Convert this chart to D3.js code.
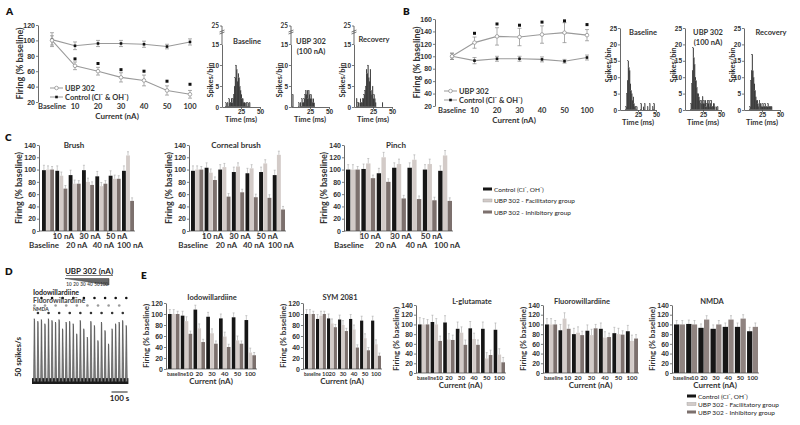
<!DOCTYPE html>
<html><head><meta charset="utf-8">
<script src="https://cdn.jsdelivr.net/npm/d3@7"></script>
<style>body{margin:0;background:#fff} svg{font-family:Lato,"Open Sans",sans-serif}</style>
</head><body><svg id="c" width="800" height="425"></svg>
<script>
// ---------- DATA ----------
const currents = ["Baseline","10","20","30","40","50","100"];
const aUbp = [100,67,60,52,48,35,30];
const aUbpErr = [6,5,5,6,7,6,5];
const aCtrl = [101,93,96,96,95,92,98];
const aCtrlErr = [9,5,4,4,4,3,4];
const aStar = [null,76,70,62,60,47,43];
const bUbp = [100,122,132,131,135,138,134];
const bUbpErr = [5,9,14,14,14,16,9];
const bCtrl = [100,93,96,96,95,92,98];
const bCtrlErr = [5,5,4,4,4,3,4];
const bStar = [null,137,152,150,155,157,151];

const histA_base = [0,0,0,0,0,1,0,1,0,2,1,1,2,1,2,3,5,7,10,9,6,8,7,5,4,3,2,2,1,1,1,0,1,0,1,0,1,0,0,0,0,0,0,0,0,0,0,0,0,0];
const histA_ubp  = [0,0,3,0,0,0,0,0,0,0,1,0,1,0,2,1,1,2,3,4,3,4,2,4,3,2,3,2,1,2,1,0,0,0,0,0,0,0,0,0,0,0,0,0,0,0,0,0,0,0];
const histA_rec  = [0,0,0,2,0,1,1,0,2,1,1,2,2,3,4,5,9,8,10,7,6,9,4,3,5,2,3,2,1,0,0,0,0,0,0,0,0,1,0,0,0,0,0,0,0,0,0,0,0,0];
const histB_base = [0,0,0,0,0,0,0,0,1,5,9,15,13,12,8,6,5,3,4,2,1,1,0,1,0,0,0,0,0,2,0,0,1,0,2,0,0,0,1,0,0,2,0,0,0,1,0,2,0,0];
const histB_ubp  = [0,0,0,0,0,0,0,0,2,8,12,19,16,14,10,9,7,5,5,4,3,2,3,2,4,2,3,2,3,1,2,3,2,3,1,2,3,1,1,2,2,1,0,1,0,1,0,0,0,0];
const histB_rec  = [0,0,0,0,0,0,0,0,1,9,12,17,12,10,8,6,4,3,3,2,1,3,2,2,1,1,2,1,1,2,1,1,1,2,1,1,1,1,1,0,0,0,0,0,0,0,0,0,0,0];

const cGroups = ["Baseline","10 nA","20 nA","30 nA","40 nA","50 nA","100 nA"];
const brushCtrl=[99,98,91,99,89,90,98], brushFac=[100,90,77,80,73,85,123], brushInh=[100,69,77,75,77,85,49];
const cornCtrl=[98,103,100,96,94,96,91], cornFac=[100,95,104,105,102,110,124], cornInh=[100,83,56,63,55,54,35];
const pinchCtrl=[100,101,94,103,103,100,98], pinchFac=[100,110,120,109,116,109,123], pinchInh=[100,86,80,53,52,50,49];

const eGroups = ["baseline","10","20","30","40","50","100"];
const iodoCtrl=[100,97,108,95,92,94,89], iodoFac=[100,87,74,65,59,52,30], iodoInh=[100,64,49,46,40,46,25];
const symCtrl=[100,91,92,90,91,88,88], symFac=[100,97,83,80,72,56,45], symInh=[100,100,76,69,39,34,24];
const gluCtrl=[100,105,104,91,92,91,89], gluFac=[100,100,69,83,70,30,38], gluInh=[100,66,68,58,58,37,22];
const fluCtrl=[100,88,80,87,91,82,86], fluFac=[100,112,83,78,73,80,66], fluInh=[100,91,78,92,74,79,71];
const nmdaCtrl=[100,101,93,91,95,95,86], nmdaUbp=[100,100,110,100,110,112,95];

const dPeaks = [78,75,77,72,78,76,74,77,66,74,75,72,60,76,66,56,75,70,52,74,64,48,66,72,74,76,70];
const dAgonists = ["Iodowillardiine","Fluorowillardiine","NMDA"];
const dRamp = ["10","20","30","40","50","100"];

const legendLabels = ["Control (Cl\u207B, OH\u207B)","UBP 302 - Facilitatory group","UBP 302 - Inhibitory group"];
const COL = ["#161616","#d3cbc8","#7c706d"];

// ---------- HELPERS ----------
const svg = d3.select("#c");
function T(g,x,y,s,size,o={}){
  const t=g.append("text").attr("x",x).attr("y",y).text(s).attr("font-size",size)
   .attr("fill",o.fill||"#222").attr("font-weight",o.w||700).attr("text-anchor",o.a||"start");
  if(o.rot) t.attr("transform",`rotate(-90,${x},${y})`);
  return t;
}
function styleAxis(ga,fs){
  ga.selectAll("text").attr("font-size",fs).attr("fill","#333").attr("font-weight",700);
  ga.selectAll("line").attr("stroke","#444").attr("stroke-width",0.7);
  ga.select(".domain").attr("stroke","#444").attr("stroke-width",0.8);
}

function lineChart(o){
  const g=svg.append("g");
  const x=d3.scalePoint().domain(currents).range([o.x0,o.x1]);
  const y=d3.scaleLinear().domain(o.yd).range(o.yr);
  const ga=g.append("g").attr("transform",`translate(${o.ax},0)`)
    .call(d3.axisLeft(y).tickValues(o.ticks).tickSize(2).tickPadding(1).tickSizeOuter(0));
  styleAxis(ga,7);
  g.selectAll(null).data(currents).join("text").attr("x",d=>x(d)).attr("y",o.yr[0]+7)
    .attr("text-anchor","middle").attr("font-size",7.5).attr("font-weight",700).attr("fill","#333").text(d=>d);
  T(g,(o.ax+o.x1)/2+3,o.yr[0]+17,"Current (nA)",8,{a:"middle",fill:"#333"});
  T(g,o.ax-15,(o.yr[0]+o.yr[1])/2,"Firing (% baseline)",9,{a:"middle",rot:true,fill:"#333"});
  const line=d3.line().x((d,i)=>x(currents[i])).y(d=>y(d));
  [[o.ctrl,o.ctrlErr],[o.ubp,o.ubpErr]].forEach(([s,e])=>{
    g.append("path").attr("d",line(s)).attr("fill","none").attr("stroke","#9a9a9a").attr("stroke-width",1.1);
    g.selectAll(null).data(s).join("path").attr("d",(d,i)=>{const cx=x(currents[i]),t=y(d+e[i]),b=y(d-e[i]);
      return `M${cx},${t}V${b}M${cx-2},${t}H${cx+2}M${cx-2},${b}H${cx+2}`;})
      .attr("stroke","#8a8a8a").attr("stroke-width",0.7).attr("fill","none");
  });
  g.selectAll(null).data(o.ctrl).join("rect").attr("x",(d,i)=>x(currents[i])-1.3).attr("y",d=>y(d)-1.3)
    .attr("width",2.6).attr("height",2.6).attr("fill","#111");
  g.selectAll(null).data(o.ubp).join("circle").attr("cx",(d,i)=>x(currents[i])).attr("cy",d=>y(d))
    .attr("r",1.8).attr("fill","#fff").attr("stroke","#888").attr("stroke-width",0.7);
  g.selectAll(null).data(o.star.map((v,i)=>[v,i]).filter(d=>d[0]!=null)).join("rect")
    .attr("x",d=>x(currents[d[1]])-1.5).attr("y",d=>y(d[0])-1.5).attr("width",3).attr("height",3).attr("fill","#111");
  const lx=o.legX, ly=o.legY;
  g.append("line").attr("x1",lx).attr("x2",lx+13).attr("y1",ly).attr("y2",ly).attr("stroke","#999");
  g.append("circle").attr("cx",lx+6.5).attr("cy",ly).attr("r",1.8).attr("fill","#fff").attr("stroke","#888").attr("stroke-width",0.7);
  T(g,lx+15,ly+2.5,"UBP 302",7.5,{fill:"#333"});
  g.append("line").attr("x1",lx).attr("x2",lx+13).attr("y1",ly+9).attr("y2",ly+9).attr("stroke","#999");
  g.append("rect").attr("x",lx+5.2).attr("y",ly+7.7).attr("width",2.6).attr("height",2.6).attr("fill","#111");
  T(g,lx+15,ly+11.5,"Control (Cl\u207B & OH\u207B)",7.5,{fill:"#333"});
}

function hist(o){
  const g=svg.append("g");
  const x=d3.scaleLinear().domain([0,50]).range([o.ax,o.ax+o.w]);
  const y=d3.scaleLinear().domain(o.yd).range(o.yr);
  g.selectAll(null).data(o.data).join("rect").attr("x",(d,i)=>x(i)).attr("width",x(1)-x(0)+0.1)
    .attr("y",d=>y(d)).attr("height",d=>o.yr[0]-y(d)).attr("fill","#1c1c1c").attr("stroke","#666").attr("stroke-width",0.12);
  const ga=g.append("g").attr("transform",`translate(${o.ax},0)`)
    .call(d3.axisLeft(y).tickValues(o.ticks).tickSize(2).tickPadding(1).tickSizeOuter(0));
  styleAxis(ga,6.5);
  if(o.top){
    g.append("line").attr("x1",o.ax).attr("x2",o.ax).attr("y1",o.yr[1]).attr("y2",o.top).attr("stroke","#444").attr("stroke-width",0.8);
    g.append("line").attr("x1",o.ax-2).attr("x2",o.ax).attr("y1",o.top).attr("y2",o.top).attr("stroke","#444").attr("stroke-width",0.7);
    T(g,o.ax-3,o.top+2.3,"25",6.5,{a:"end",fill:"#333"});
    g.append("path").attr("d",`M${o.ax-2.5},${o.top+6}L${o.ax+2.5},${o.top+4}M${o.ax-2.5},${o.top+8}L${o.ax+2.5},${o.top+6}`)
      .attr("stroke","#444").attr("stroke-width",0.7);
  }
  const gx=g.append("g").attr("transform",`translate(0,${o.yr[0]})`)
    .call(d3.axisBottom(x).tickValues([25,50]).tickSize(2).tickPadding(0).tickSizeOuter(0));
  styleAxis(gx,6.5);
  T(g,x(25),o.yr[0]+15,"Time (ms)",7.5,{a:"middle",fill:"#333"});
  T(g,o.ax-9,o.labY,"Spikes/bin",7.5,{a:"middle",rot:true,fill:"#333"});
  o.title.forEach((s,i)=>T(g,o.tx,o.ty+i*10,s,7.5,{a:"middle",fill:"#333"}));
}

function barChart(o){
  const g=svg.append("g");
  const y=d3.scaleLinear().domain([0,o.ymax]).range([o.y0,o.y1]);
  const x=d3.scaleBand().domain(o.groups).range([o.x0,o.x1]).paddingInner(0.1);
  const xs=d3.scaleBand().domain(d3.range(o.series.length)).range([0,x.bandwidth()]).paddingInner(0.06);
  o.series.forEach((s,k)=>{
    g.selectAll(null).data(s).join("path").attr("d",(d,i)=>{
      const cx=x(o.groups[i])+xs(k)+xs.bandwidth()/2, t=y(d+o.err[k]);
      return `M${cx},${y(d)}V${t}M${cx-1},${t}H${cx+1}`;})
      .attr("stroke","#aaa").attr("stroke-width",0.6).attr("fill","none");
    g.selectAll(null).data(s).join("rect").attr("x",(d,i)=>x(o.groups[i])+xs(k)).attr("width",xs.bandwidth())
      .attr("y",d=>y(d)).attr("height",d=>o.y0-y(d)).attr("fill",o.colors[k]);
  });
  const ga=g.append("g").attr("transform",`translate(${o.ax},0)`)
    .call(d3.axisLeft(y).tickValues(o.ticks).tickSize(2).tickPadding(1).tickSizeOuter(0));
  styleAxis(ga,o.fs);
  g.append("line").attr("x1",o.ax).attr("x2",o.x1+1).attr("y1",o.y0).attr("y2",o.y0).attr("stroke","#444").attr("stroke-width",0.7);
  T(g,o.tx,o.ty,o.title,o.tfs,{a:"middle",fill:"#333"});
  T(g,o.ax-17,(o.y0+o.y1)/2,"Firing (% baseline)",o.lfs,{a:"middle",rot:true,fill:"#333"});
  if(o.twoRow){
    o.groups.forEach((gname,i)=>{
      const cx=x(gname)+x.bandwidth()/2;
      if(i%2===1){
        g.append("line").attr("x1",x(gname)-1).attr("x2",x(gname)-1).attr("y1",o.y0).attr("y2",o.y0+8).attr("stroke","#777").attr("stroke-width",0.5);
        T(g,cx+2,o.y0+8,gname,8,{a:"middle",fill:"#333"});
      } else {
        T(g,cx+(i===0?-4:2),o.y0+17,gname,8,{a:"middle",fill:"#333"});
      }
    });
  } else {
    const off1=o.off1||3, bfs=o.bfs||5.2, xfs=o.xfs||6.3;
    g.selectAll(null).data(o.groups).join("text")
      .attr("x",(d,i)=>i===0?o.ax+1:x(d)+x.bandwidth()/2+(i===1?off1:0)).attr("y",o.y0+7)
      .attr("text-anchor",(d,i)=>i===0?"start":"middle").attr("font-size",(d,i)=>i===0?bfs:xfs)
      .attr("font-weight",700).attr("fill","#333").text(d=>d);
    T(g,(o.ax+o.x1)/2,o.y0+15,"Current (nA)",8,{a:"middle",fill:"#333"});
  }
}

function legend(x0,y0,step,fs){
  const g=svg.append("g");
  legendLabels.forEach((s,i)=>{
    g.append("rect").attr("x",x0).attr("y",y0+i*step-2.5).attr("width",9).attr("height",3).attr("fill",COL[i])
     .attr("stroke",i===1?"#999":"none").attr("stroke-width",0.4);
    T(g,x0+11,y0+i*step+1.5,s,fs,{w:400,fill:"#222"});
  });
}

// ---------- PANEL LABELS ----------
[["A",6,15],["B",403,15],["C",5,141],["D",5,275],["E",141,279]].forEach(d=>T(svg,d[1],d[2],d[0],10,{w:800,fill:"#111"}));

// ---------- A ----------
lineChart({ax:38,x0:52,x1:190,yd:[20,120],yr:[102,25],ticks:[20,40,60,80,100,120],
  ubp:aUbp,ubpErr:aUbpErr,ctrl:aCtrl,ctrlErr:aCtrlErr,star:aStar,legX:50,legY:88});
hist({ax:222,w:38,yd:[0,15],yr:[107,44],ticks:[0,5,10,15],top:26,data:histA_base,labY:80,title:["Baseline"],tx:247,ty:44});
hist({ax:291,w:38,yd:[0,15],yr:[107,44],ticks:[0,5,10,15],top:26,data:histA_ubp,labY:80,title:["UBP 302","(100 nA)"],tx:311,ty:44});
hist({ax:354,w:38,yd:[0,15],yr:[107,44],ticks:[0,5,10,15],top:26,data:histA_rec,labY:80,title:["Recovery"],tx:374,ty:42});

// ---------- B ----------
lineChart({ax:435,x0:452,x1:587,yd:[20,160],yr:[106,19],ticks:[20,40,60,80,100,120,140,160],
  ubp:bUbp,ubpErr:bUbpErr,ctrl:bCtrl,ctrlErr:bCtrlErr,star:bStar,legX:444,legY:91});
hist({ax:620,w:36,yd:[0,25],yr:[110,28],ticks:[0,5,10,15,20,25],data:histB_base,labY:65,title:["Baseline"],tx:643,ty:35});
hist({ax:685,w:36,yd:[0,25],yr:[110,28],ticks:[0,5,10,15,20,25],data:histB_ubp,labY:65,title:["UBP 302","(100 nA)"],tx:708,ty:35});
hist({ax:744,w:36,yd:[0,25],yr:[110,28],ticks:[0,5,10,15,20,25],data:histB_rec,labY:65,title:["Recovery"],tx:771,ty:35});

// ---------- C ----------
const cT=[0,20,40,60,80,100,120,140];
barChart({ax:39,x0:42,x1:134,y0:231,y1:145,ymax:140,ticks:cT,groups:cGroups,series:[brushCtrl,brushFac,brushInh],
  colors:COL,err:[8,6,5],fs:7,title:"Brush",tx:74,ty:148,tfs:8,lfs:9,twoRow:true});
barChart({ax:189,x0:191,x1:285,y0:231,y1:145,ymax:140,ticks:cT,groups:cGroups,series:[cornCtrl,cornFac,cornInh],
  colors:COL,err:[8,6,5],fs:7,title:"Corneal brush",tx:236,ty:148,tfs:8,lfs:9,twoRow:true});
barChart({ax:344,x0:346,x1:452,y0:231,y1:145,ymax:140,ticks:cT,groups:cGroups,series:[pinchCtrl,pinchFac,pinchInh],
  colors:COL,err:[8,8,5],fs:7,title:"Pinch",tx:396,ty:148,tfs:8,lfs:9,twoRow:true});
legend(483,190,11.5,6.5);

// ---------- D ----------
(function(){
  const g=svg.append("g");
  const times=dPeaks.map((d,i)=>15+i*22);
  const x=d3.scaleLinear().domain([0,610]).range([32,130]);
  const y=d3.scaleLinear().domain([0,80]).range([384,317]);
  g.append("rect").attr("x",x(0)).attr("y",y(7)).attr("width",x(600)-x(0)).attr("height",y(0)-y(7)).attr("fill","#1c1c1c");
  g.selectAll(null).data(dPeaks).join("path").attr("d",(d,i)=>{const t=times[i];
      return `M${x(t-5)},${y(3)}L${x(t-1)},${y(d)}L${x(t+1)},${y(d-2)}L${x(t+6)},${y(3)}Z`;})
    .attr("fill","#8d8d8d").attr("stroke","#3a3a3a").attr("stroke-width",0.6);
  const rowY=[298,305.5,313], rowC=["#111","#9a9a9a","#333"];
  dAgonists.forEach((a,k)=>{
    g.selectAll(null).data(times.filter((t,i)=>i%3===(k+2)%3)).join("circle")
      .attr("cx",d=>x(d)).attr("cy",rowY[k]).attr("r",1.3).attr("fill",rowC[k]);
  });
  T(g,33,295,dAgonists[0],7,{fill:"#222"});
  T(g,33,303,dAgonists[1],7,{fill:"#444"});
  T(g,33,310.5,dAgonists[2],5,{fill:"#333"});
  const rx=d3.scalePoint().domain(dRamp).range([69,104]);
  g.append("path").attr("d",`M${rx("10")-4},278.5L${rx("100")+5},278.5L${rx("100")+5},285Z`).attr("fill","#666").attr("stroke","#333").attr("stroke-width",0.5);
  T(g,89,273.5,"UBP 302 (nA)",8,{a:"middle",fill:"#222"});
  g.append("line").attr("x1",66).attr("x2",113).attr("y1",275.5).attr("y2",275.5).attr("stroke","#222").attr("stroke-width",0.6);
  g.selectAll(null).data(dRamp).join("text").attr("x",d=>rx(d)).attr("y",285.5).attr("text-anchor","middle")
    .attr("font-size",4.6).attr("font-weight",600).attr("fill","#333").text(d=>d);
  T(g,21,357,"50 spikes/s",8,{a:"middle",rot:true,fill:"#222"});
  g.append("line").attr("x1",x(495)).attr("x2",x(595)).attr("y1",392).attr("y2",392).attr("stroke","#222").attr("stroke-width",1);
  T(g,x(545),401,"100 s",8,{a:"middle",fill:"#222"});
})();

// ---------- E ----------
barChart({ax:166,x0:168,x1:256,y0:369,y1:303,ymax:120,ticks:[0,20,40,60,80,100,120],groups:eGroups,series:[iodoCtrl,iodoFac,iodoInh],
  colors:COL,err:[8,8,5],fs:7,title:"Iodowillardiine",tx:212,ty:300,tfs:7.5,lfs:8});
barChart({ax:303,x0:305,x1:381,y0:369,y1:303,ymax:120,ticks:[0,20,40,60,80,100,120],groups:eGroups,series:[symCtrl,symFac,symInh],
  colors:COL,err:[8,8,5],fs:7,title:"SYM 2081",tx:340,ty:300,tfs:7.5,lfs:8,off1:4.5,bfs:4.6,xfs:5.8});
barChart({ax:416,x0:418,x1:505,y0:373,y1:305,ymax:140,ticks:[0,20,40,60,80,100,120,140],groups:eGroups,series:[gluCtrl,gluFac,gluInh],
  colors:COL,err:[14,12,10],fs:7,title:"L-glutamate",tx:472,ty:304,tfs:7.5,lfs:8});
barChart({ax:543,x0:545,x1:638,y0:373,y1:305,ymax:140,ticks:[0,20,40,60,80,100,120,140],groups:eGroups,series:[fluCtrl,fluFac,fluInh],
  colors:COL,err:[12,12,8],fs:7,title:"Fluorowillardiine",tx:582,ty:304,tfs:7.5,lfs:8});
barChart({ax:672,x0:674,x1:758,y0:373,y1:305,ymax:140,ticks:[0,20,40,60,80,100,120,140],groups:eGroups,series:[nmdaCtrl,nmdaUbp],
  colors:[COL[0],"#8f8380"],err:[8,8],fs:7,title:"NMDA",tx:712,ty:304,tfs:7.5,lfs:8});
legend(687,397,8,6.5);
</script></body></html>
